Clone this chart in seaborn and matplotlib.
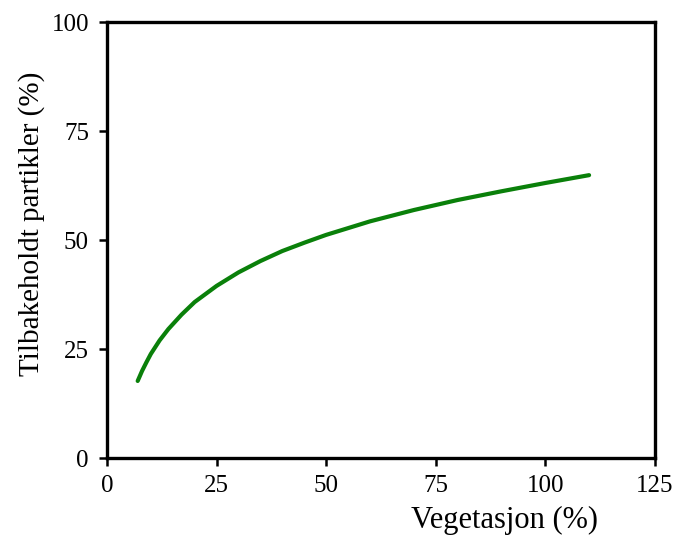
import matplotlib
matplotlib.use("Agg")
import matplotlib.pyplot as plt
import seaborn as sns
import pandas as pd

vegetasjon = [7, 8, 9, 10, 12, 14, 17, 20, 25, 30, 35, 40, 45, 50, 60, 70, 80, 90, 100, 110]
tilbakeholdt = [17.7, 20.0, 22.0, 23.9, 27.0, 29.6, 32.9, 35.8, 39.5, 42.6, 45.2, 47.5, 49.4, 51.2,
                54.3, 56.9, 59.2, 61.2, 63.1, 64.9]
xticks = [0, 25, 50, 75, 100, 125]
yticks = [0, 25, 50, 75, 100]

sns.set_style("ticks")
plt.rcParams['font.family'] = ['Liberation Serif', 'DejaVu Serif']

df = pd.DataFrame({"x": vegetasjon, "y": tilbakeholdt})

fig = plt.figure(figsize=(6.73, 5.39), dpi=100)
ax = fig.add_axes([0.159, 0.150, 0.814, 0.809])
sns.lineplot(data=df, x="x", y="y", ax=ax, color="#0a800a", linewidth=3)

ax.set_xlim(0, 125)
ax.set_ylim(0, 100)
ax.set_xticks(xticks)
ax.set_yticks(yticks)
ax.tick_params(direction='out', length=6, width=1.8, labelsize=18, colors='black')
ax.tick_params(axis='y', pad=7)
ax.tick_params(axis='x', pad=6)
for s in ax.spines.values():
    s.set_linewidth(2.4)
    s.set_color('black')

ax.set_xlabel('Vegetasjon (%)', fontsize=22, color='black')
ax.set_ylabel('Tilbakeholdt partikler (%)', fontsize=21, color='black')
ax.xaxis.set_label_coords(0.726, -0.11)
ax.yaxis.set_label_coords(-0.113, 0.537)

fig.savefig("out.png", dpi=100)
